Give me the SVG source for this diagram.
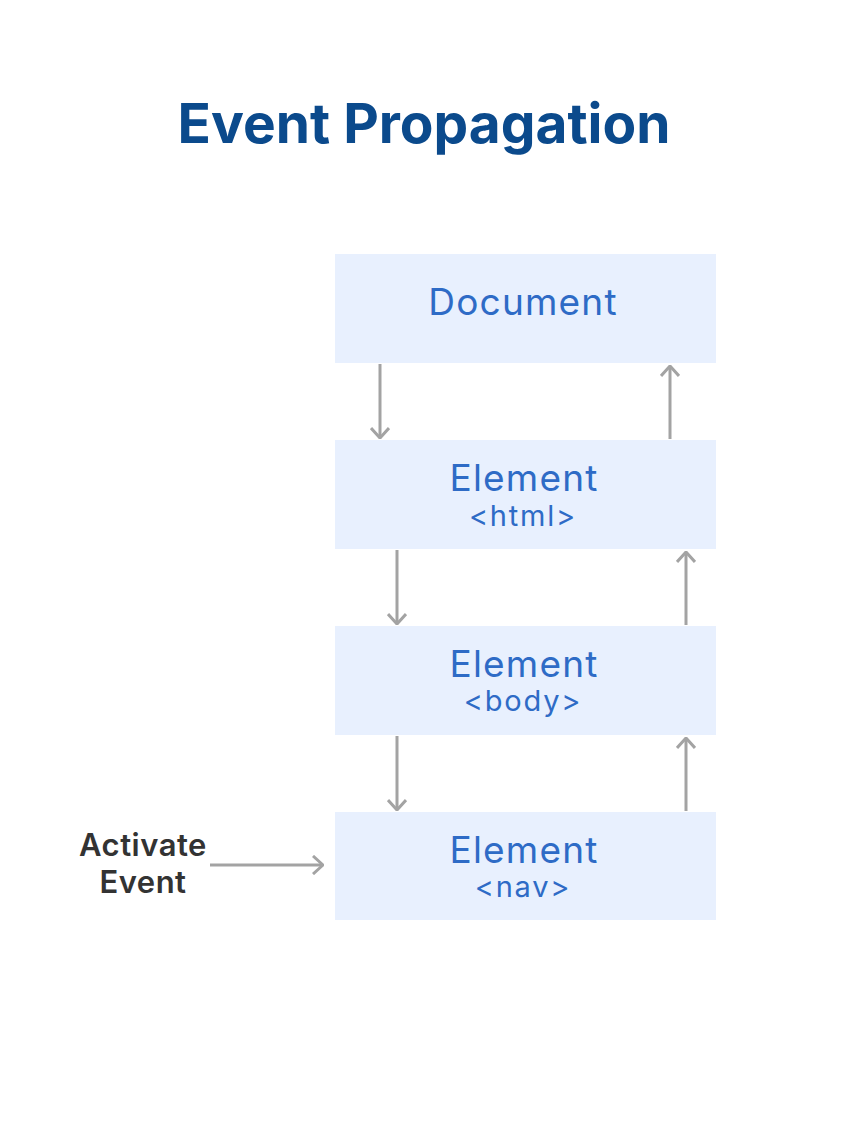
<svg xmlns="http://www.w3.org/2000/svg" width="850" height="1126" viewBox="0 0 850 1126">
<style>
.box{fill:#e8f0fe}
.t1{font-family:Inter,"Noto Sans",sans-serif;font-size:37px;letter-spacing:1.2px;fill:#2e6bc6;text-anchor:middle}
.t2{font-family:Inter,"Noto Sans",sans-serif;font-size:29px;letter-spacing:1.8px;fill:#2e6bc6;text-anchor:middle}
.c{stroke:#a3a3a3;stroke-width:3;fill:none}
.lbl{font-family:Inter,"Noto Sans",sans-serif;font-size:31px;font-weight:600;letter-spacing:0.5px;fill:#333;text-anchor:middle}
</style>
<defs>
<marker id="ah" viewBox="0 0 12 20" refX="11" refY="10" markerWidth="12" markerHeight="20" markerUnits="userSpaceOnUse" orient="auto">
<path d="M1,1 L11,10 L1,19" fill="none" stroke="#a3a3a3" stroke-width="3"/>
</marker>
</defs>
<rect width="850" height="1126" fill="#fff"/>
<text x="424" y="143" font-family="Inter,'Noto Sans',sans-serif" font-size="55" font-weight="700" fill="#0b4a8c" text-anchor="middle">Event Propagation</text>
<g id="document"><rect class="box" x="335" y="254" width="381" height="109"/><text class="t1" x="523" y="315">Document</text></g>
<g id="html"><rect class="box" x="335" y="440" width="381" height="109"/><text class="t1" x="524" y="491">Element</text><text class="t2" x="523" y="526">&lt;html&gt;</text></g>
<g id="body"><rect class="box" x="335" y="626" width="381" height="109"/><text class="t1" x="524" y="677">Element</text><text class="t2" x="523" y="711">&lt;body&gt;</text></g>
<g id="nav"><rect class="box" x="335" y="812" width="381" height="108"/><text class="t1" x="524" y="863">Element</text><text class="t2" x="523" y="897">&lt;nav&gt;</text></g>
<g id="activate"><text class="lbl" x="143" y="856">Activate</text><text class="lbl" x="143" y="893">Event</text></g>
<g id="connectors">
<line class="c" x1="380" y1="364" x2="380" y2="438" marker-end="url(#ah)"/>
<line class="c" x1="670" y1="439" x2="670" y2="366" marker-end="url(#ah)"/>
<line class="c" x1="397" y1="550" x2="397" y2="624" marker-end="url(#ah)"/>
<line class="c" x1="686" y1="625" x2="686" y2="552" marker-end="url(#ah)"/>
<line class="c" x1="397" y1="736" x2="397" y2="810" marker-end="url(#ah)"/>
<line class="c" x1="686" y1="811" x2="686" y2="738" marker-end="url(#ah)"/>
<line class="c" x1="210" y1="865" x2="323" y2="865" marker-end="url(#ah)"/>
</g>
</svg>
